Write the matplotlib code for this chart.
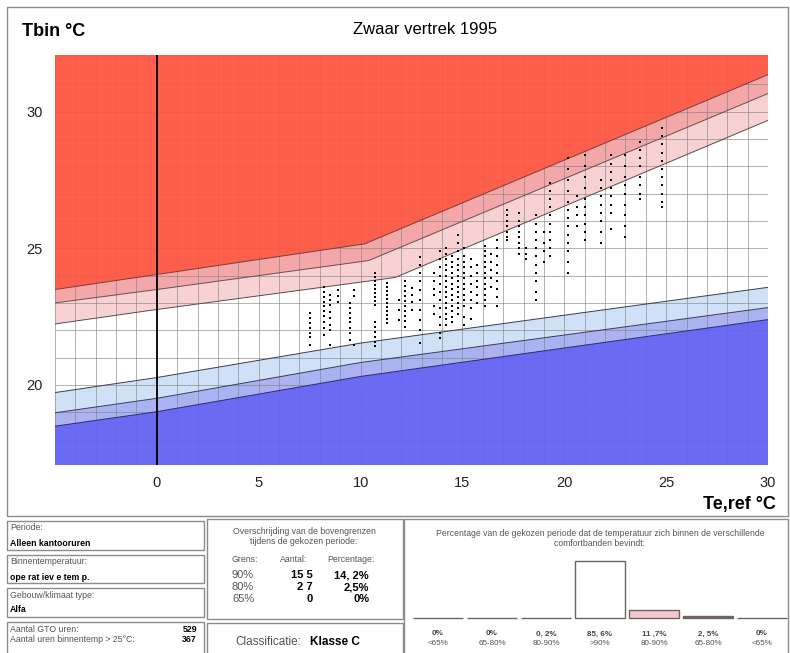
import matplotlib
matplotlib.use("Agg")
import matplotlib.pyplot as plt
from matplotlib.patches import Rectangle
import numpy as np

plt.rcParams['font.family'] = ['Liberation Sans', 'DejaVu Sans']

W, H = 790, 653

# comfort band limits (Te,ref, Tbin)
up65_x = [-5, 0, 10.2, 30]
up65_y = [23.49, 24.04, 25.16, 31.35]
up80_x = [-5, 0, 10.4, 30]
up80_y = [23.00, 23.49, 24.55, 30.66]
up90_x = [-5, 0, 11.7, 30]
up90_y = [22.23, 22.76, 23.93, 29.68]
lo90_x = [-5, 0, 10, 30]
lo90_y = [19.72, 20.27, 21.53, 23.57]
lo80_x = [-5, 0, 10, 30]
lo80_y = [18.98, 19.51, 20.82, 22.83]
lo65_x = [-5, 0, 10, 30]
lo65_y = [18.49, 19.02, 20.31, 22.39]

# hourly indoor temperatures, grouped per day (Te,ref of that day)
days = [7.5, 8.2, 8.5, 8.9, 9.5, 9.7, 10.7, 11.3, 11.9, 12.2, 12.5, 12.9,
        13.6, 13.9, 14.2, 14.5, 14.8, 15.1, 15.4, 15.7, 16.1, 16.4, 16.7,
        17.2, 17.8, 18.1, 18.6, 19.0, 19.3, 20.2, 20.6, 21.0, 21.8, 22.3,
        23.0, 23.7, 24.8]
tbin = [
    [22.63, 22.45, 22.27, 22.08, 21.90, 21.76, 21.46],
    [23.59, 23.40, 23.22, 23.04, 22.89, 22.71, 22.52, 22.31, 22.09, 21.83],
    [23.29, 23.11, 22.93, 22.67, 22.45, 22.20, 22.01, 21.46],
    [23.48, 23.26, 23.04],
    [23.00, 22.82, 22.63, 22.45, 22.31, 22.09, 21.90, 21.65],
    [23.48, 23.26, 21.46],
    [24.10, 23.95, 23.81, 23.66, 23.51, 23.37, 23.22, 23.07, 22.93, 22.31,
     22.12, 21.94, 21.76, 21.57, 21.43],
    [23.73, 23.59, 23.44, 23.29, 23.15, 23.00, 22.85, 22.71, 22.56, 22.41, 22.27],
    [23.11, 22.74, 22.38],
    [23.81, 23.62, 23.44, 23.26, 23.07, 22.89, 22.71, 22.52, 22.34, 22.12],
    [23.55, 23.29, 23.04, 22.74],
    [24.68, 24.39, 24.10, 23.81, 23.48, 23.11, 22.74, 22.38, 22.01, 21.54],
    [24.1, 23.8, 23.5, 23.3, 22.9, 22.6],
    [24.9, 24.6, 24.3, 24.0, 23.7, 23.4, 23.1, 22.8, 22.5, 22.2, 21.9, 21.7],
    [25.0, 24.8, 24.6, 24.4, 24.2, 24.0, 23.8, 23.6, 23.4, 23.2, 23.0, 22.8,
     22.6, 22.4, 22.2],
    [24.7, 24.5, 24.3, 24.1, 23.9, 23.7, 23.5, 23.3, 23.1, 22.9, 22.7, 22.5, 22.3],
    [25.5, 25.2, 24.9, 24.6, 24.4, 24.2, 24.0, 23.8, 23.6, 23.4, 23.2, 23.0,
     22.8, 22.6],
    [25.0, 24.7, 24.5, 24.3, 24.1, 23.9, 23.7, 23.5, 23.3, 23.1, 22.9, 22.5, 22.2],
    [24.6, 24.3, 24.0, 23.7, 23.4, 23.1, 22.8, 22.4],
    [24.4, 24.1, 23.8, 23.6, 23.3, 23.0],
    [25.1, 24.9, 24.7, 24.5, 24.3, 24.1, 23.9, 23.7, 23.5, 23.3, 23.1, 22.9],
    [24.8, 24.5, 24.2, 23.9, 23.6],
    [25.3, 25.0, 24.7, 24.4, 24.1, 23.8, 23.5, 23.2, 22.9],
    [26.4, 26.2, 26.0, 25.8, 25.6, 25.4, 25.3],
    [26.3, 26.0, 25.8, 25.6, 25.4, 25.2, 25.0, 24.8],
    [25.0, 24.8, 24.6],
    [26.2, 25.9, 25.6, 25.3, 25.0, 24.7, 24.4, 24.1, 23.8, 23.4, 23.1],
    [25.6, 25.2, 24.9, 24.5],
    [27.4, 27.1, 26.8, 26.5, 26.2, 25.9, 25.6, 25.3, 25.0, 24.7],
    [28.3, 27.9, 27.5, 27.1, 26.7, 26.4, 26.1, 25.8, 25.5, 25.2, 24.9, 24.5, 24.1],
    [26.9, 26.5, 26.2, 25.8],
    [28.4, 28.0, 27.6, 27.2, 26.8, 26.5, 26.2, 25.9, 25.6, 25.3],
    [27.5, 27.2, 26.9, 26.6, 26.3, 26.0, 25.6, 25.2],
    [28.4, 28.1, 27.8, 27.5, 27.2, 26.9, 26.6, 26.3, 25.7],
    [28.4, 28.0, 27.6, 27.3, 27.0, 26.6, 26.2, 25.8, 25.4],
    [28.9, 28.6, 28.3, 28.0, 27.6, 27.3, 27.0, 26.8],
    [29.4, 29.1, 28.8, 28.5, 28.2, 27.9, 27.6, 27.3, 27.0, 26.7, 26.5],
]

# bottom panel numbers
band_labels = ['<65%', '65-80%', '80-90%', '>90%', '80-90%', '65-80%', '<65%']
band_pct = [0, 0, 0.2, 85.6, 11.7, 2.5, 0]
band_pct_txt = ['0%', '0%', '0, 2%', '85, 6%', '11 ,7%', '2, 5%', '0%']
grens = ['90%', '80%', '65%']
aantal = ['15 5', '2 7', '0']
percentage = ['14, 2%', '2,5%', '0%']

RED = '#fc5540'
PINK2 = '#f3a7a9'
PINK1 = '#f8d2d2'
BLUE1 = '#cfe1f6'
BLUE2 = '#aab2f1'
BLUE3 = '#6262f2'


def fx(px):
    return px / W


def fy(py):
    return 1 - py / H


fig = plt.figure(figsize=(W / 100, H / 100), dpi=100)

ax = fig.add_axes([fx(55), fy(465), (768 - 55) / W, (465 - 55) / H])
ax.set_xlim(-5, 30)
ax.set_ylim(17.07, 32.07)
top, bot = 32.07, 17.07


def band(xa, ya, xb, yb, color, z=1, alpha=1.0):
    # polygon between line a and (reversed) line b
    xs = list(xa) + list(xb)[::-1]
    ys = list(ya) + list(yb)[::-1]
    ax.fill(xs, ys, color=color, lw=0, zorder=z, alpha=alpha)


band(up65_x, up65_y, [-5, 30], [top, top], RED, z=2.5, alpha=0.94)
band(up80_x, up80_y, up65_x, up65_y, PINK2)
band(up90_x, up90_y, up80_x, up80_y, PINK1)
band(lo80_x, lo80_y, lo90_x, lo90_y, BLUE1)
band(lo65_x, lo65_y, lo80_x, lo80_y, BLUE2)
band([-5, 30], [bot, bot], lo65_x, lo65_y, BLUE3, z=2.5, alpha=0.95)

# grid every degree
ax.vlines(np.arange(-5, 31), bot, top, color='#808080', lw=0.7, alpha=0.6, zorder=2)
ax.hlines(np.arange(18, 33), -5, 30, color='#808080', lw=0.7, alpha=0.6, zorder=2)

for lx, ly, c in [(up65_x, up65_y, '#7a3a36'), (up80_x, up80_y, '#6a4a4a'),
                  (up90_x, up90_y, '#5a4a4a'), (lo90_x, lo90_y, '#3a3a5a'),
                  (lo80_x, lo80_y, '#3a3a5a'), (lo65_x, lo65_y, '#2a2a6a')]:
    ax.plot(lx, ly, color=c, lw=0.7, zorder=3)

ax.axvline(0, color='black', lw=1.3, zorder=4)

px_x = [d for d, ys in zip(days, tbin) for _ in ys]
px_y = [y for ys in tbin for y in ys]
ax.scatter(px_x, px_y, s=3.5, marker='s', color='black', lw=0, zorder=5)

for s in ax.spines.values():
    s.set_visible(False)
ax.set_xticks([0, 5, 10, 15, 20, 25, 30])
ax.set_yticks([20, 25, 30])
ax.tick_params(length=0, labelsize=10.5, colors='#222222')
ax.tick_params(axis='x', pad=8)
ax.tick_params(axis='y', pad=9)

fig.text(fx(22), fy(32), 'Tbin °C', fontsize=13, fontweight='bold', va='center')
fig.text(fx(425), fy(30), 'Zwaar vertrek 1995', fontsize=12, ha='center', va='center')
fig.text(fx(776), fy(505), 'Te,ref °C', fontsize=13, fontweight='bold',
         ha='right', va='center')

# frames
def box(x0, y0, x1, y1):
    fig.patches.append(Rectangle((fx(x0), fy(y1)), (x1 - x0) / W, (y1 - y0) / H,
                                 transform=fig.transFigure, fill=False,
                                 edgecolor='#8c8c8c', lw=1.0))


box(7, 7, 788, 516)
box(7, 521, 204, 550)
box(7, 555, 204, 583)
box(7, 588, 204, 617)
box(7, 622, 204, 660)
box(207, 519, 403, 619)
box(207, 623, 403, 660)
box(404, 519, 788, 660)

LBL = '#555555'
fs = 6.3
fig.text(fx(10), fy(528), 'Periode:', fontsize=fs, color=LBL, va='center')
fig.text(fx(10), fy(543), 'Alleen kantooruren', fontsize=fs, fontweight='bold', va='center')
fig.text(fx(10), fy(561), 'Binnentemperatuur:', fontsize=fs, color=LBL, va='center')
fig.text(fx(10), fy(577), 'ope rat iev e tem p.', fontsize=fs, fontweight='bold', va='center')
fig.text(fx(10), fy(595), 'Gebouw/klimaat type:', fontsize=fs, color=LBL, va='center')
fig.text(fx(10), fy(610), 'Alfa', fontsize=fs, fontweight='bold', va='center')
fig.text(fx(10), fy(629), 'Aantal GTO uren:', fontsize=fs, color=LBL, va='center')
fig.text(fx(197), fy(629), '529', fontsize=fs, fontweight='bold', ha='right', va='center')
fig.text(fx(10), fy(639), 'Aantal uren binnentemp > 25°C:', fontsize=fs, color=LBL, va='center')
fig.text(fx(197), fy(640), '367', fontsize=fs, fontweight='bold', ha='right', va='center')

fig.text(fx(304), fy(532), 'Overschrijding van de bovengrenzen', fontsize=6.3,
         color=LBL, ha='center', va='center')
fig.text(fx(304), fy(542), 'tijdens de gekozen periode:', fontsize=6.3,
         color=LBL, ha='center', va='center')
fig.text(fx(232), fy(560), 'Grens:', fontsize=6.3, color=LBL, va='center')
fig.text(fx(294), fy(560), 'Aantal:', fontsize=6.3, color=LBL, ha='center', va='center')
fig.text(fx(351), fy(560), 'Percentage:', fontsize=6.3, color=LBL, ha='center', va='center')
for i, (g, a, p) in enumerate(zip(grens, aantal, percentage)):
    yy = fy(575 + 12 * i)
    fig.text(fx(232), yy, g, fontsize=8, color=LBL, va='center')
    fig.text(fx(313), yy, a, fontsize=8, fontweight='bold', ha='right', va='center')
    fig.text(fx(369), yy, p, fontsize=8, fontweight='bold', ha='right', va='center')
fig.text(fx(235), fy(642), 'Classificatie:', fontsize=8.5, color=LBL, va='center')
fig.text(fx(310), fy(642), 'Klasse C', fontsize=8.5, fontweight='bold', va='center')

fig.text(fx(600), fy(533), 'Percentage van de gekozen periode dat de temperatuur zich '
         'binnen de verschillende', fontsize=6.2, color=LBL, ha='center', va='center')
fig.text(fx(600), fy(543), 'comfortbanden bevindt:', fontsize=6.2, color=LBL,
         ha='center', va='center')

# small bar chart of the comfort bands
ax2 = fig.add_axes([fx(411), fy(618), 378 / W, 66.6 / H])
ax2.set_xlim(-0.5, 6.5)
ax2.set_ylim(0, 100)
ax2.axis('off')
bar_colors = [BLUE3, BLUE2, BLUE1, 'white', '#f7c6cc', '#8a5a5a', RED]
ax2.bar(range(7), band_pct, width=0.92, color=bar_colors, edgecolor='#666666',
        lw=1.0, clip_on=False)
for i in range(7):
    ax2.text(i, -0.24, band_pct_txt[i], transform=ax2.get_xaxis_transform(),
             fontsize=5.8, fontweight='bold', color='#444444', ha='center', va='center')
    ax2.text(i, -0.39, band_labels[i], transform=ax2.get_xaxis_transform(),
             fontsize=5.8, color=LBL, ha='center', va='center')

fig.savefig('out.png', dpi=100)
